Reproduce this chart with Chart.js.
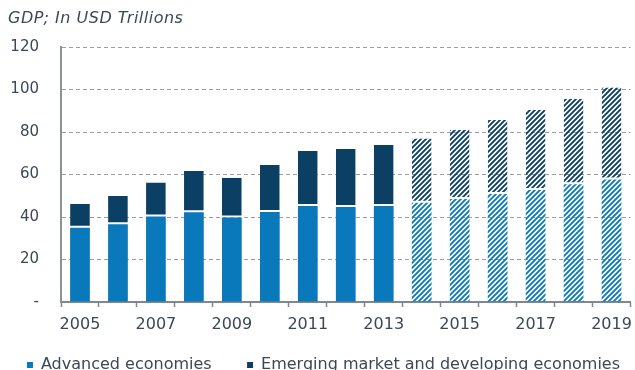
<!DOCTYPE html>
<html>
<head>
<meta charset="utf-8">
<script src="https://cdn.jsdelivr.net/npm/chart.js@4.4.1/dist/chart.umd.min.js"></script>
<style>
  html, body { margin: 0; padding: 0; background: #fff; overflow: hidden; }
  #wrap { position: relative; width: 640px; height: 383px; }
</style>
</head>
<body>
<div id="wrap"><canvas id="gdp" width="640" height="383"></canvas></div>
<script>
// GDP by economy group, USD trillions (2014 onward are projections)
const years = ['2005','2006','2007','2008','2009','2010','2011','2012','2013',
               '2014','2015','2016','2017','2018','2019'];
const advanced = [35.0, 36.6, 40.2, 42.2, 39.8, 42.4, 45.2, 44.7, 45.2,
                  46.7, 48.5, 50.8, 52.7, 55.4, 57.7];
const total    = [46.1, 49.9, 56.2, 61.6, 58.5, 64.5, 71.1, 72.0, 73.9,
                  77.0, 80.9, 85.6, 90.4, 95.5, 101.0];
const emerging = total.map((t, i) => +(t - advanced[i]).toFixed(1));
const firstForecast = 9; // index of 2014
const yTicks = [0, 20, 40, 60, 80, 100, 120];

const BLUE = '#0a79bb';
const NAVY = '#0b3f63';
const TEXT = '#3b4856';
const FONT = '"DejaVu Sans", Verdana, sans-serif';

// diagonal hatch for projected years
function hatch(color) {
  const s = 5;
  const c = document.createElement('canvas');
  c.width = s; c.height = s;
  const g = c.getContext('2d');
  g.strokeStyle = color;
  g.lineWidth = 1.9;
  g.lineCap = 'square';
  g.beginPath();
  g.moveTo(0, s); g.lineTo(s, 0);
  g.moveTo(-s / 2, s / 2); g.lineTo(s / 2, -s / 2);
  g.moveTo(s / 2, s * 1.5); g.lineTo(s * 1.5, s / 2);
  g.stroke();
  return g.createPattern(c, 'repeat');
}
const blueHatch = hatch(BLUE);
const navyHatch = hatch(NAVY);

const titlePlugin = {
  id: 'sideTitle',
  afterDraw(chart) {
    const ctx = chart.ctx;
    ctx.save();
    ctx.font = 'italic 16px ' + FONT;
    if ('letterSpacing' in ctx) ctx.letterSpacing = '0.5px';
    ctx.fillStyle = TEXT;
    ctx.textBaseline = 'middle';
    ctx.textAlign = 'left';
    ctx.fillText('GDP; In USD Trillions', 8, 19);
    ctx.restore();
  }
};

new Chart(document.getElementById('gdp'), {
  type: 'bar',
  data: {
    labels: years,
    datasets: [
      {
        label: 'Advanced economies',
        data: advanced,
        backgroundColor: years.map((y, i) => i >= firstForecast ? blueHatch : BLUE),
        borderWidth: 0
      },
      {
        label: 'Emerging market and developing economies',
        data: emerging,
        backgroundColor: years.map((y, i) => i >= firstForecast ? navyHatch : NAVY),
        borderColor: '#ffffff',
        borderWidth: { top: 0, left: 0, right: 0, bottom: 2 },
        borderSkipped: false
      }
    ]
  },
  options: {
    responsive: false,
    animation: false,
    devicePixelRatio: 1,
    layout: { padding: { left: 10, right: 3, top: 47, bottom: 0 } },
    datasets: { bar: { categoryPercentage: 1, barPercentage: 0.52 } },
    scales: {
      x: {
        stacked: true,
        afterFit(s) { s.height = 45; },
        grid: { display: true, drawOnChartArea: false, drawTicks: true,
                tickLength: 5, tickWidth: 1.5, color: '#7f8790', offset: true },
        border: { display: true, color: '#7f8790', width: 2 },
        ticks: {
          autoSkip: false, maxRotation: 0, padding: 8,
          color: TEXT, font: { family: FONT, size: 16 },
          callback(v, i) { return i % 2 === 0 ? years[i] : ''; }
        }
      },
      y: {
        stacked: true,
        min: 0, max: 120,
        afterFit(s) { s.width = 51; },
        afterBuildTicks(s) { s.ticks = yTicks.map(v => ({ value: v })); },
        grid: { color: '#9a9ea3', lineWidth: 1, drawTicks: false },
        border: { display: true, color: '#8a9198', width: 2, dash: [4, 3] },
        ticks: {
          padding: 22, color: TEXT, font: { family: FONT, size: 15 },
          callback(v) { return v === 0 ? '-' : v; }
        }
      }
    },
    plugins: {
      title: { display: false },
      tooltip: { enabled: false },
      legend: {
        position: 'bottom',
        labels: {
          boxWidth: 6, boxHeight: 6, padding: 10,
          color: TEXT, font: { family: FONT, size: 16 },
          generateLabels(chart) {
            const last = chart.data.datasets.length - 1;
            return chart.data.datasets.map((d, i) => ({
              // wider spacing after every entry but the last
              text: i < last ? d.label + '     ' : d.label,
              fillStyle: i === 0 ? BLUE : NAVY,
              strokeStyle: i === 0 ? BLUE : NAVY,
              lineWidth: 0,
              fontColor: TEXT,
              datasetIndex: i
            }));
          }
        }
      }
    }
  },
  plugins: [titlePlugin]
});
</script>
</body>
</html>
